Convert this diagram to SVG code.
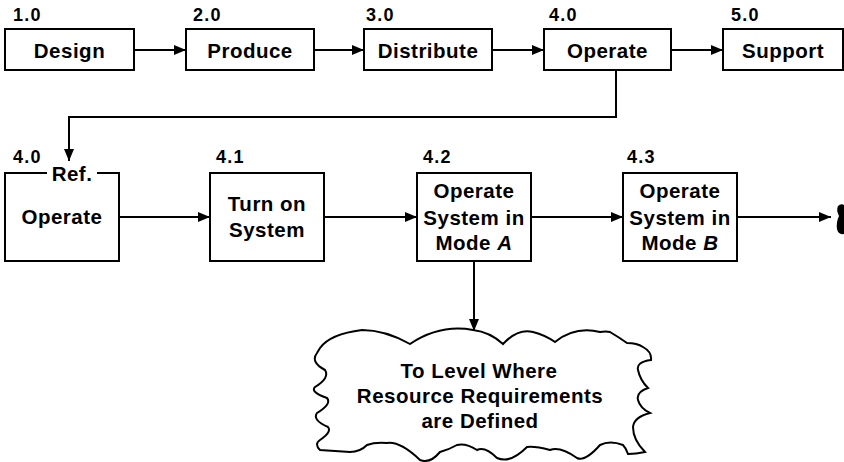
<svg xmlns="http://www.w3.org/2000/svg" width="844" height="462" viewBox="0 0 844 462">
<style>
.box{fill:#fff;stroke:#000;stroke-width:2}
.t{font-family:"Liberation Sans",Arial,sans-serif;font-weight:bold;font-size:20.5px;letter-spacing:0.5px;fill:#000;text-anchor:middle}
.lbl{font-family:"Liberation Sans",Arial,sans-serif;font-weight:bold;font-size:18px;letter-spacing:1.2px;fill:#000}
.c{fill:none;stroke:#000;stroke-width:2}
</style>
<defs>
<marker id="ah" markerWidth="12" markerHeight="10" refX="12" refY="5" orient="auto" markerUnits="userSpaceOnUse">
<path d="M0,0 L12,5 L0,10 Z" fill="#000"/>
</marker>
</defs>
<rect width="844" height="462" fill="#fff"/>
<g id="connectors">
<line class="c" x1="134" y1="50" x2="186" y2="50" marker-end="url(#ah)"/>
<line class="c" x1="314" y1="50" x2="364" y2="50" marker-end="url(#ah)"/>
<line class="c" x1="492" y1="50" x2="544" y2="50" marker-end="url(#ah)"/>
<line class="c" x1="671" y1="50" x2="723" y2="50" marker-end="url(#ah)"/>
<polyline class="c" points="616,70 616,117 69,117 69,161" marker-end="url(#ah)"/>
<line class="c" x1="119" y1="217" x2="210" y2="217" marker-end="url(#ah)"/>
<line class="c" x1="324" y1="217" x2="417" y2="217" marker-end="url(#ah)"/>
<line class="c" x1="531" y1="217" x2="623" y2="217" marker-end="url(#ah)"/>
<line class="c" x1="737" y1="217" x2="831" y2="217" marker-end="url(#ah)"/>
<line class="c" x1="474" y1="261" x2="474" y2="331" marker-end="url(#ah)"/>
</g>
<g id="n1">
<text class="lbl" x="13" y="21">1.0</text>
<rect class="box" x="5" y="29" width="129" height="41"/>
<text class="t" x="69.5" y="58">Design</text>
</g>
<g id="n2">
<text class="lbl" x="193" y="21">2.0</text>
<rect class="box" x="186" y="29" width="128" height="41"/>
<text class="t" x="250" y="58">Produce</text>
</g>
<g id="n3">
<text class="lbl" x="366" y="21">3.0</text>
<rect class="box" x="364" y="29" width="128" height="41"/>
<text class="t" x="428" y="58">Distribute</text>
</g>
<g id="n4">
<text class="lbl" x="549" y="21">4.0</text>
<rect class="box" x="544" y="29" width="127" height="41"/>
<text class="t" x="607.5" y="58">Operate</text>
</g>
<g id="n5">
<text class="lbl" x="731" y="21">5.0</text>
<rect class="box" x="723" y="29" width="120" height="41"/>
<text class="t" x="783" y="58">Support</text>
</g>
<g id="n40ref">
<text class="lbl" x="13" y="163">4.0</text>
<path class="c" d="M47,173 L5,173 L5,261 L119,261 L119,173 L97,173"/>
<text class="t" x="72" y="181">Ref.</text>
<text class="t" x="62" y="224">Operate</text>
</g>
<g id="n41">
<text class="lbl" x="216" y="163">4.1</text>
<rect class="box" x="210" y="173" width="114" height="88"/>
<text class="t" x="267" y="211">Turn on</text>
<text class="t" x="267" y="237">System</text>
</g>
<g id="n42">
<text class="lbl" x="423" y="163">4.2</text>
<rect class="box" x="417" y="173" width="114" height="88"/>
<text class="t" x="474" y="198">Operate</text>
<text class="t" x="474" y="225">System in</text>
<text class="t" x="474" y="250">Mode <tspan font-style="italic">A</tspan></text>
</g>
<g id="n43">
<text class="lbl" x="627" y="163">4.3</text>
<rect class="box" x="623" y="173" width="114" height="88"/>
<text class="t" x="680" y="198">Operate</text>
<text class="t" x="680" y="225">System in</text>
<text class="t" x="680" y="250">Mode <tspan font-style="italic">B</tspan></text>
</g>
<g id="offpage">
<path d="M838,206 Q841,203 844,205 L844,234 Q838,235 837,229 Q836,222 839,216 Q836,210 838,206 Z" fill="#000"/>
</g>
<g id="cloud">
<path class="c" fill="#fff" d="M320,348 Q330,334 362,330 Q385,330 410,344 Q440,324 473,330 Q490,332 503,344 Q518,328 533,332 Q545,335 555,342 Q575,326 600,332 Q606,331 610,332 Q620,338 627,343 Q637,343 643,347 Q652,352 651,360 Q636,362 638,370 Q640,380 648,388 Q636,392 638,400 Q640,408 650,413 Q634,417 633,427 Q633,440 645,452 Q636,454 628,454 Q626,448 623,445 Q610,440 600,445 Q585,462 577,458 Q560,446 550,450 Q535,446 527,447 Q510,464 497,458 Q485,446 477,450 Q466,443 457,445 Q448,450 440,452 Q430,464 420,460 Q400,441 387,443 Q375,442 367,445 Q360,452 350,452 Q335,451 320,450 Q314,444 320,440 Q332,432 328,427 Q312,420 317,413 Q332,404 327,398 Q310,392 315,387 Q330,378 325,370 Q310,362 317,353 Z"/>
<text class="t" x="479" y="378">To Level Where</text>
<text class="t" x="480" y="403">Resource Requirements</text>
<text class="t" x="480" y="428">are Defined</text>
</g>
</svg>
